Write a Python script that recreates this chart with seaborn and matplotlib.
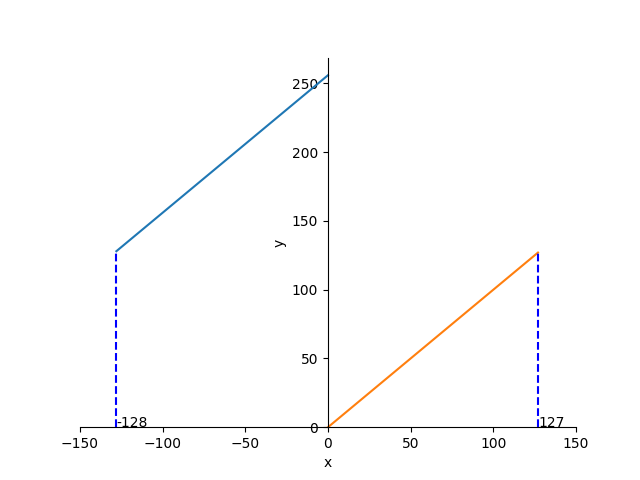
import matplotlib
matplotlib.use("Agg")
import matplotlib.pyplot as plt
import seaborn as sns
import numpy as np

# int8 values read back as uint8
neg_x = [-128, 0]
neg_y = [128, 256]
pos_x = [0, 127]
pos_y = [0, 127]
marks = [-128, 127]
mark_h = [128, 127]

fig, ax = plt.subplots(figsize=(6.4, 4.8), dpi=100)
sns.lineplot(x=neg_x, y=neg_y, ax=ax, color="C0")
sns.lineplot(x=pos_x, y=pos_y, ax=ax, color="C1")
for m, h in zip(marks, mark_h):
    ax.plot([m, m], [0, h], "b--")
    ax.text(m, 0, str(m))

ax.spines["left"].set_position(("data", 0))
ax.spines["bottom"].set_position(("data", 0))
ax.spines["top"].set_visible(False)
ax.spines["right"].set_visible(False)
ax.set_xlim(-150, 150)
ax.set_ylim(bottom=0)
ax.set_xlabel("x")
ax.set_ylabel("y")
fig.savefig("out.png")
